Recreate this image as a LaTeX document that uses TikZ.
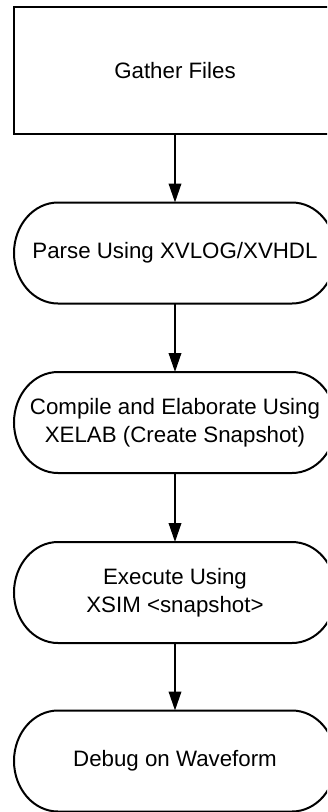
\documentclass[tikz,border=0pt]{standalone}
\usepackage{fontspec}
\setmainfont{Liberation Sans}
\usetikzlibrary{arrows.meta}
\newcommand\stadiumoutline[1]{%
  \draw[outline] ([xshift=44pt]#1.north west) -- ([xshift=-44pt]#1.north east)
    arc[start angle=90,end angle=-90,x radius=44pt,y radius=50.5pt]
    -- ([xshift=44pt]#1.south west)
    arc[start angle=270,end angle=90,x radius=44pt,y radius=50.5pt] -- cycle;}
\begin{document}
\begin{tikzpicture}[x=1pt,y=1pt,
  boxlabel/.style={inner sep=0pt, outer sep=0pt, minimum width=322pt, align=center,
    font=\fontsize{22.3}{27.5}\selectfont, text=black},
  termbox/.style={boxlabel, minimum height=127pt, draw=black, line width=2pt},
  stadiumbox/.style={boxlabel, minimum height=101pt},
  outline/.style={line width=2pt, draw=black},
  flow/.style={line width=2pt, draw=black, -{Triangle[width=12.5pt,length=19pt]}}]
\useasboundingbox (0,0) rectangle (327,-812);
\clip (0,0) rectangle (327,-812);
\node[termbox] (n1) at (175,-70.5) {Gather Files};
\node[stadiumbox] (n2) at (175,-253) {Parse Using XVLOG/XVHDL};
\node[stadiumbox] (n3) at (175,-422.5) {Compile and Elaborate Using\\XELAB (Create Snapshot)};
\node[stadiumbox] (n4) at (175,-592.5) {Execute Using\\XSIM <snapshot>};
\node[stadiumbox] (n5) at (175,-761) {Debug on Waveform};
\stadiumoutline{n2}
\stadiumoutline{n3}
\stadiumoutline{n4}
\stadiumoutline{n5}
\draw[flow] (n1) -- (n2);
\draw[flow] (n2) -- (n3);
\draw[flow] (n3) -- (n4);
\draw[flow] (n4) -- (n5);
\end{tikzpicture}
\end{document}
